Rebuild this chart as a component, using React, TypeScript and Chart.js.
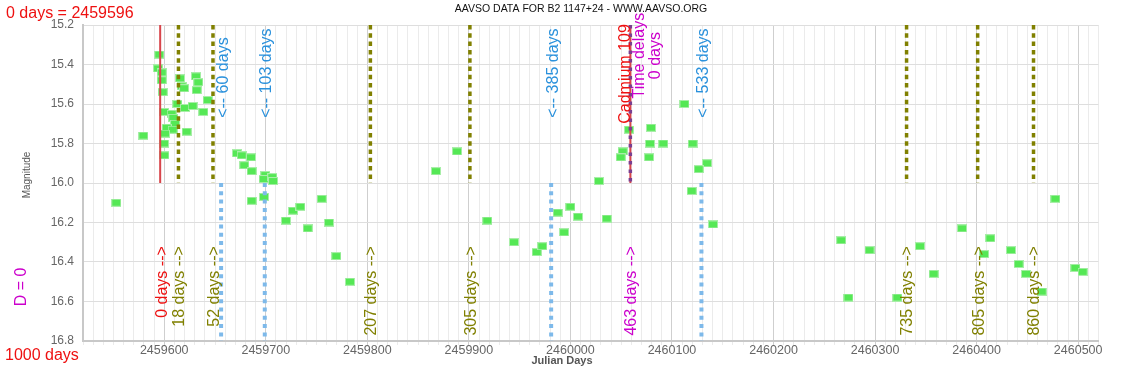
import React, { useEffect, useRef } from 'react';
import { Chart, registerables } from 'chart.js';

Chart.register(...registerables);

const FONT = "'Liberation Sans', Arial, Helvetica, sans-serif";

// Reference epoch (0 days)
const T0 = 2459596;

// Observations: Julian Day and magnitude
const OBS_JD = [
  2459552.8, 2459579.4, 2459595.1, 2459593.9, 2459597.5, 2459597.5, 2459598.5, 2459599.8,
  2459607.3, 2459608.9, 2459610.6, 2459602.4, 2459608.3, 2459600.7, 2459599.8, 2459600.1,
  2459612.9, 2459615.5, 2459617.2, 2459619.5, 2459631.3, 2459633.5, 2459632.0, 2459620.4,
  2459628.0, 2459642.8, 2459638.5, 2459622.1, 2459671.6, 2459676.3, 2459685.4, 2459678.8,
  2459686.1, 2459699.5, 2459697.9, 2459706.4, 2459707.1, 2459686.1, 2459698.2, 2459755.1,
  2459726.8, 2459734.0, 2459719.9, 2459741.3, 2459762.2, 2459769.4, 2459782.9, 2459867.6,
  2459888.3, 2459918.1, 2459944.4, 2459966.8, 2459972.3, 2459987.5, 2459999.9, 2460007.4,
  2459993.7, 2460028.1, 2460035.7, 2460057.7, 2460079.3, 2460051.5, 2460049.5, 2460077.4,
  2460078.3, 2460091.4, 2460112.3, 2460120.4, 2460134.5, 2460126.3, 2460119.4, 2460140.4,
  2460266.6, 2460294.5, 2460273.8, 2460321.9, 2460344.2, 2460357.7, 2460385.6, 2460407.3,
  2460413.5, 2460433.8, 2460441.4, 2460448.6, 2460464.1, 2460477.5, 2460497.2, 2460504.4,
];
const OBS_MAG = [
  16.10, 15.76, 15.35, 15.42, 15.44, 15.48, 15.54, 15.64,
  15.65, 15.67, 15.70, 15.72, 15.73, 15.75, 15.80, 15.86,
  15.60, 15.47, 15.51, 15.52, 15.46, 15.49, 15.53, 15.62,
  15.61, 15.58, 15.64, 15.74, 15.85, 15.86, 15.87, 15.91,
  15.94, 15.96, 15.98, 15.97, 15.99, 16.09, 16.07, 16.08,
  16.14, 16.12, 16.19, 16.23, 16.20, 16.37, 16.50, 15.94,
  15.84, 16.19, 16.30, 16.35, 16.32, 16.15, 16.12, 16.17,
  16.25, 15.99, 16.18, 15.73, 15.72, 15.84, 15.87, 15.87,
  15.80, 15.80, 15.60, 15.80, 15.90, 15.93, 16.04, 16.21,
  16.29, 16.34, 16.58, 16.58, 16.32, 16.46, 16.23, 16.36,
  16.28, 16.34, 16.41, 16.46, 16.55, 16.08, 16.43, 16.45,
];

// Marker lines (days after T0)
const RED_DELAYS = [0];
const OLIVE_DELAYS = [18, 52, 207, 305, 735, 805, 860];
const BLUE_DELAYS = [60, 103, 385, 533];
const CADMIUM_DELAY = 463;

// Axis ranges / ticks
const X_MIN = 2459520;
const X_MAX = 2460520;
const X_MINOR_STEP = 10;
const X_MAJOR_STEP = 100;
const Y_MIN = 15.2;
const Y_MAX = 16.8;
const Y_STEP = 0.2;
const Y_SPLIT = 16.0;

const TITLE = 'AAVSO DATA FOR B2 1147+24 - WWW.AAVSO.ORG';

const C_RED = '#ee1111';
const C_RED_LINE = '#d8454b';
const C_OLIVE = '#808000';
const C_BLUE_TXT = '#2a91dc';
const C_BLUE_LINE = '#7db9ea';
const C_MAG = '#cc00cc';
const C_PURPLE = '#7b3f90';

export default function App() {
  const ref = useRef<HTMLCanvasElement>(null);

  useEffect(() => {
    const canvas = ref.current;
    if (!canvas) return;

    const marker = document.createElement('canvas');
    marker.width = 10;
    marker.height = 8;
    const mctx = marker.getContext('2d')!;
    mctx.fillStyle = '#a8eea8';
    mctx.fillRect(0, 0, 10, 8);
    mctx.fillStyle = '#55e855';
    mctx.fillRect(1, 1, 8, 6);

    const lineDs = (jd: number, from: number, to: number, color: string, width: number, dash: number[]) => ({
      type: 'line',
      data: [{ x: jd, y: from }, { x: jd, y: to }],
      borderColor: color,
      borderWidth: width,
      borderDash: dash,
      borderCapStyle: 'butt',
      pointRadius: 0,
      showLine: true,
      fill: false,
      tension: 0,
      order: 0,
    });

    const datasets: any[] = [];
    datasets.push(lineDs(T0 + CADMIUM_DELAY, Y_MIN, Y_SPLIT, C_PURPLE, 3.5, [3.5, 5]));
    datasets.push(lineDs(T0 + CADMIUM_DELAY, Y_MIN, Y_SPLIT, C_RED_LINE, 2, []));
    RED_DELAYS.forEach((d) => datasets.push(lineDs(T0 + d, Y_MIN, Y_SPLIT, C_RED_LINE, 2, [])));
    OLIVE_DELAYS.forEach((d) => datasets.push(lineDs(T0 + d, Y_MIN, Y_SPLIT, C_OLIVE, 3.5, [4.5, 3.8])));
    BLUE_DELAYS.forEach((d) => datasets.push(lineDs(T0 + d, Y_SPLIT, Y_MAX, C_BLUE_LINE, 4, [4, 4.3])));
    datasets.push({
      type: 'scatter',
      data: OBS_JD.map((x, i) => ({ x, y: OBS_MAG[i] })),
      pointStyle: marker,
      pointRadius: 4,
      pointHoverRadius: 4,
      showLine: false,
      order: 5,
    });

    const textPlugin = {
      id: 'texts',
      afterDraw(chart: any) {
        const { ctx } = chart;
        const xs = chart.scales.x;
        const ys = chart.scales.y;
        const rot = (text: string, px: number, py: number, align: string, color: string, size = 16) => {
          ctx.save();
          ctx.translate(px, py);
          ctx.rotate(-Math.PI / 2);
          ctx.font = `${size}px ${FONT}`;
          ctx.textAlign = align;
          ctx.textBaseline = 'middle';
          ctx.fillStyle = color;
          ctx.fillText(text, 0, 0);
          ctx.restore();
        };
        ctx.save();
        ctx.font = `10.5px ${FONT}`;
        ctx.fillStyle = '#111';
        ctx.textAlign = 'center';
        ctx.textBaseline = 'alphabetic';
        ctx.fillText(TITLE, 581, 12);
        ctx.font = `16px ${FONT}`;
        ctx.fillStyle = C_RED;
        ctx.textAlign = 'left';
        ctx.fillText(`0 days = ${T0}`, 6, 18);
        ctx.fillText(`${X_MAX - X_MIN} days`, 5, 360);
        ctx.font = `bold 11px ${FONT}`;
        ctx.fillStyle = '#555';
        ctx.textAlign = 'center';
        ctx.textBaseline = 'middle';
        ctx.fillText('Julian Days', 562, 361);
        ctx.restore();
        rot('Magnitude', 27, 175, 'center', '#555', 10);
        rot('D = 0', 22, 287, 'center', C_MAG, 16);

        const bottomY = ys.getPixelForValue(16.32);
        const topY = ys.getPixelForValue(15.67);
        RED_DELAYS.forEach((d) => rot(`${d} days -->`, xs.getPixelForValue(T0 + d) + 2, bottomY, 'right', C_RED));
        OLIVE_DELAYS.forEach((d) => rot(`${d} days -->`, xs.getPixelForValue(T0 + d) + 1.5, bottomY, 'right', C_OLIVE));
        rot(`${CADMIUM_DELAY} days -->`, xs.getPixelForValue(T0 + CADMIUM_DELAY) + 1, bottomY, 'right', C_MAG);
        BLUE_DELAYS.forEach((d) => rot(`<-- ${d} days`, xs.getPixelForValue(T0 + d) + 2, topY, 'left', C_BLUE_TXT));
        const cx = xs.getPixelForValue(T0 + CADMIUM_DELAY);
        rot('Cadmium 109', cx - 5, ys.getPixelForValue(15.448), 'center', C_RED);
        rot('Time delays', cx + 9.5, ys.getPixelForValue(15.355), 'center', C_MAG);
        rot('0 days', cx + 25.5, ys.getPixelForValue(15.355), 'center', C_MAG);
      },
    };

    const chart = new Chart(canvas, {
      type: 'scatter',
      data: { datasets },
      options: {
        animation: false,
        responsive: false,
        devicePixelRatio: 1,
        layout: { padding: { left: 0, top: 25, right: 36.5, bottom: 0 } },
        plugins: { legend: { display: false }, tooltip: { enabled: false }, title: { display: false } },
        events: [],
        scales: {
          x: {
            type: 'linear',
            position: 'bottom',
            min: X_MIN,
            max: X_MAX,
            ticks: {
              stepSize: X_MINOR_STEP,
              autoSkip: false,
              maxRotation: 0,
              minRotation: 0,
              padding: -2,
              color: '#666',
              font: { size: 12.5, family: FONT },
              callback: (v: any) => (Math.round(v) % X_MAJOR_STEP === 0 ? String(Math.round(v)) : ''),
            },
            grid: {
              color: (c: any) => (c.tick && Math.round(c.tick.value) % X_MAJOR_STEP === 0 ? '#cfcfcf' : '#ebebeb'),
              tickLength: 4,
              drawTicks: true,
            },
            border: { color: '#c8c8c8', width: 2 },
            afterFit: (s: any) => { s.height = 26; },
          },
          y: {
            type: 'linear',
            reverse: true,
            min: Y_MIN,
            max: Y_MAX,
            ticks: {
              stepSize: Y_STEP,
              padding: 9,
              color: '#666',
              font: { size: 12, family: FONT },
              callback: (v: any) => Number(v).toFixed(1),
            },
            grid: { color: '#dedede', drawTicks: false },
            border: { color: '#c8c8c8', width: 2 },
            afterFit: (s: any) => { s.width = 83; },
          },
        },
      } as any,
      plugins: [textPlugin],
    } as any);

    return () => chart.destroy();
  }, []);

  return (
    <div style={{ position: 'absolute', left: 0, top: 0, width: 1135, height: 367, background: '#fff' }}>
      <canvas ref={ref} width={1135} height={367} style={{ display: 'block' }} />
    </div>
  );
}
